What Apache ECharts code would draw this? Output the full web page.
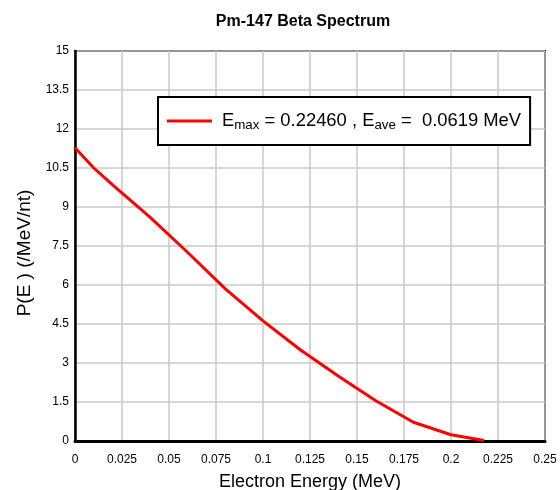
<!DOCTYPE html>
<html>
<head>
<meta charset="utf-8">
<script src="https://cdn.jsdelivr.net/npm/echarts@6/dist/echarts.min.js"></script>
<style>html,body{margin:0;padding:0;background:#fff;}#c{width:560px;height:490px;}</style>
</head>
<body>
<div id="c"></div>
<script>
const energy = [0, 0.01, 0.02, 0.04, 0.06, 0.08, 0.10, 0.12, 0.14, 0.16, 0.18, 0.20, 0.2176];
const probability = [11.28, 10.5, 9.85, 8.6, 7.25, 5.85, 4.62, 3.5, 2.5, 1.55, 0.72, 0.24, 0.02];
const xTicks = [0, 0.025, 0.05, 0.075, 0.1, 0.125, 0.15, 0.175, 0.2, 0.225, 0.25];
const yTicks = [0, 1.5, 3, 4.5, 6, 7.5, 9, 10.5, 12, 13.5, 15];
const seriesName = 'Pm-147';

const font = 'Arial, "Liberation Sans", sans-serif';
const chart = echarts.init(document.getElementById('c'));
chart.setOption({
  animation: false,
  backgroundColor: '#fff',
  title: {
    text: 'Pm-147 Beta Spectrum',
    left: 298, top: 9, textAlign: 'center',
    textStyle: {fontFamily: font, fontSize: 16, fontWeight: 'bold', color: '#000'}
  },
  grid: {left: 75, right: 15, top: 51, bottom: 49, show: true, borderColor: '#000', borderWidth: 2,
    containLabel: false, outerBoundsMode: 'none'},
  legend: {
    left: 158, top: 97,
    backgroundColor: '#fff', borderColor: '#000', borderWidth: 2,
    padding: [13, 9, 13, 9],
    itemWidth: 45, itemHeight: 3, itemGap: 6,
    icon: 'rect',
    data: [{name: seriesName, itemStyle: {color: '#ff0000'}}],
    formatter: function () {
      return '{g|}{a|E}{s|max}{a| = 0.22460 , E}{s|ave}{a| =  0.0619 MeV}';
    },
    textStyle: {
      fontFamily: font, color: '#000',
      rich: {
        g: {width: 5, lineHeight: 22},
        a: {fontFamily: font, fontSize: 18.4, color: '#000', lineHeight: 22},
        s: {fontFamily: font, fontSize: 13.3, color: '#000', lineHeight: 22, padding: [9, 0, 0, 0]}
      }
    }
  },
  xAxis: {
    type: 'value', min: xTicks[0], max: xTicks[xTicks.length - 1], interval: 0.025,
    name: 'Electron Energy (MeV)', nameLocation: 'middle', nameGap: 32,
    nameTextStyle: {fontFamily: font, fontSize: 18, color: '#000'},
    axisLine: {show: true, onZero: false, lineStyle: {color: '#000', width: 3}},
    axisTick: {show: false},
    axisLabel: {fontFamily: font, fontSize: 12, color: '#000', margin: 13,
      formatter: function (v) { return String(+v.toFixed(3)); }},
    splitLine: {show: true, lineStyle: {color: '#c8c8c8', width: 1.5}}
  },
  yAxis: {
    type: 'value', min: yTicks[0], max: yTicks[yTicks.length - 1], interval: 1.5,
    name: 'P(E ) (/MeV/nt)', nameLocation: 'middle', nameGap: 38,
    nameTextStyle: {fontFamily: font, fontSize: 19, color: '#000', padding: [0, 14, 0, 0]},
    axisLine: {show: true, onZero: false, lineStyle: {color: '#000', width: 2.5}},
    axisTick: {show: false},
    axisLabel: {fontFamily: font, fontSize: 12, color: '#000', margin: 6,
      formatter: function (v) { return String(+v.toFixed(1)); }},
    splitLine: {show: true, lineStyle: {color: '#c8c8c8', width: 1.5}}
  },
  series: [{
    name: seriesName, type: 'line', showSymbol: false, symbol: 'none',
    data: energy.map((e, i) => [e, probability[i]]),
    lineStyle: {color: '#ff0000', width: 3},
    itemStyle: {color: '#ff0000'}
  }]
});
</script>
</body>
</html>
